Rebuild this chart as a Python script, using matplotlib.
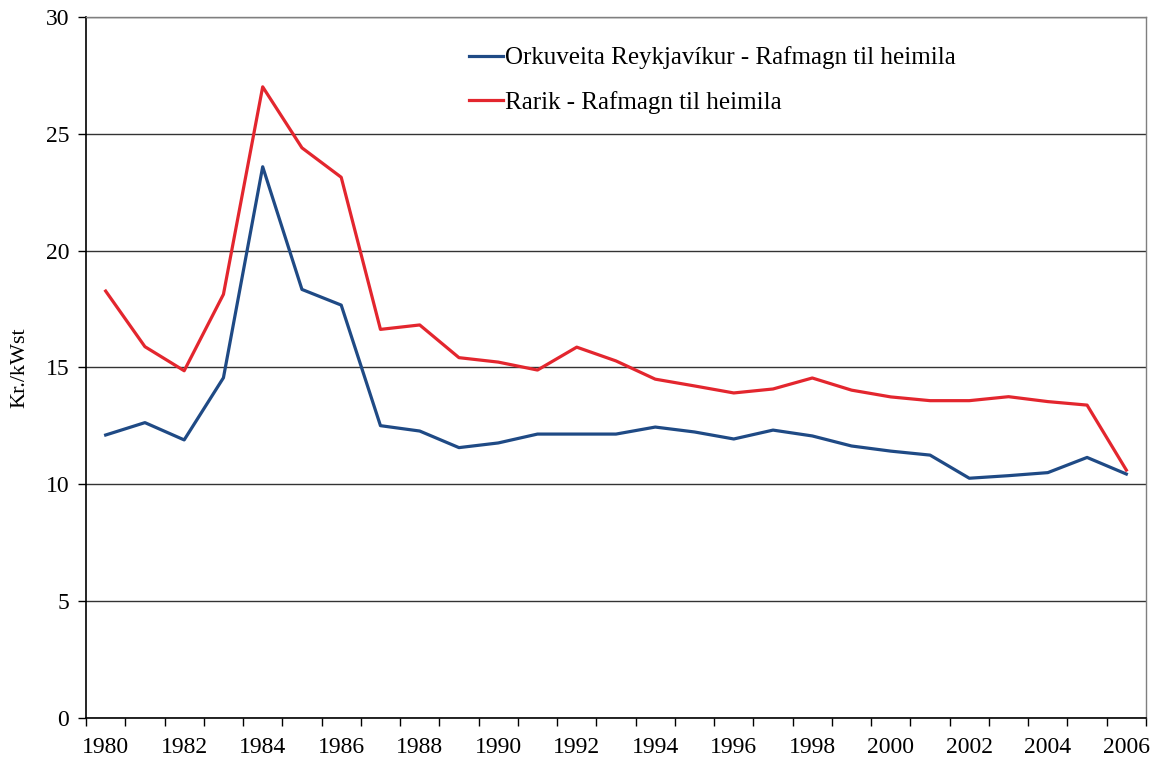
import numpy as np
import matplotlib
matplotlib.use("Agg")
import matplotlib.pyplot as plt
from matplotlib.ticker import MultipleLocator, FixedLocator

YEARS = list(range(1980, 2007))
OR_VALS = [12.11, 12.64, 11.90, 14.56, 23.59, 18.34, 17.67, 12.51, 12.28, 11.57,
           11.77, 12.15, 12.15, 12.15, 12.45, 12.24, 11.94, 12.32, 12.07, 11.64,
           11.42, 11.25, 10.26, 10.37, 10.50, 11.15, 10.44]
RARIK_VALS = [18.27, 15.89, 14.86, 18.13, 27.01, 24.40, 23.14, 16.63, 16.82, 15.42,
              15.23, 14.89, 15.87, 15.28, 14.50, 14.21, 13.91, 14.08, 14.55, 14.03,
              13.74, 13.58, 13.58, 13.75, 13.54, 13.39, 10.61]
LABELS = ['Orkuveita Reykjavíkur - Rafmagn til heimila', 'Rarik - Rafmagn til heimila']
COLORS = ['#1F4A85', '#E3262E']

plt.rcParams['font.family'] = ['Liberation Serif', 'DejaVu Serif']

fig = plt.figure(figsize=(11.58, 7.58), dpi=100)
ax = fig.add_axes([0.0743, 0.0528, 0.9153, 0.9248])

ax.plot(YEARS, OR_VALS, color=COLORS[0], lw=2.3, label=LABELS[0], zorder=3)
ax.plot(YEARS, RARIK_VALS, color=COLORS[1], lw=2.3, label=LABELS[1], zorder=3)

ax.set_xlim(YEARS[0] - 0.5, YEARS[-1] + 0.5)
ax.set_ylim(0, 30)
ax.yaxis.set_major_locator(MultipleLocator(5))
ax.grid(True, axis='y', color='#333333', lw=1.0, zorder=1)

ax.xaxis.set_major_locator(FixedLocator(YEARS[::2]))
ax.xaxis.set_minor_locator(FixedLocator(np.arange(YEARS[0] - 0.5, YEARS[-1] + 1, 1)))
ax.tick_params(axis='x', which='major', length=0, pad=14, labelsize=17)
ax.tick_params(axis='x', which='minor', length=6, width=1.0, direction='out')
ax.tick_params(axis='y', length=6, width=1.0, direction='out', labelsize=17, pad=6)

for s in ['left', 'bottom']:
    ax.spines[s].set_color('black')
    ax.spines[s].set_linewidth(1.2)
for s in ['right', 'top']:
    ax.spines[s].set_color('#7f7f7f')
    ax.spines[s].set_linewidth(1.0)

ax.set_ylabel('Kr./kWst', fontsize=16, labelpad=12)

ax.legend(loc='upper left', bbox_to_anchor=(0.340, 0.99), frameon=False,
          fontsize=18, handlelength=1.35, handletextpad=0.1, labelspacing=0.85)

fig.savefig('out.png', dpi=100)
